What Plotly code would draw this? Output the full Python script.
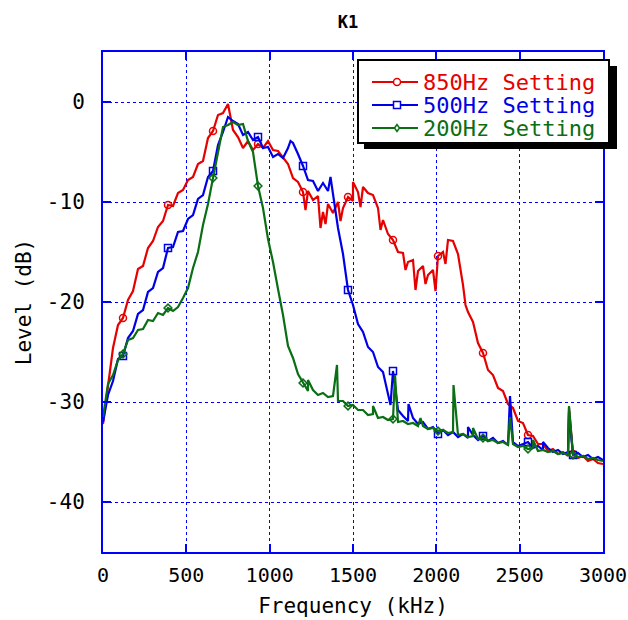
import numpy as np
import plotly.graph_objects as go

# ---- data ----
freq_khz = list(range(0, 3001, 30))

level_850 = [-32.2, -28.4, -24.6, -22.3, -21.6, -19.8, -18.9, -16.7, -16.4, -14.6,
             -13.9, -12.5, -11.9, -10.3, -10.4, -9.1, -8.8, -7.8, -7.5, -6.2,
             -5.9, -3.6, -2.9, -1.3, -1.1, -0.2, -2.8, -3.5, -4.6, -3.9,
             -4.8, -4.2, -4.6, -3.9, -4.8, -4.9, -5.6, -6.2, -7.6, -8.0,
             -9.0, -8.9, -9.8, -9.4, -11.0, -10.2, -11.1, -10.0, -10.6, -9.5,
             -9.9, -9.0, -8.5, -9.1, -9.3, -10.6, -11.8, -13.2, -13.8, -15.0,
             -15.1, -16.0, -15.8, -16.9, -16.4, -17.3, -16.8, -15.4, -15.0, -13.8,
             -13.9, -15.2, -18.3, -21.0, -22.0, -24.1, -25.1, -26.8, -27.3, -28.6,
             -28.9, -30.2, -30.6, -31.9, -32.1, -33.3, -33.4, -34.2, -34.2, -34.9,
             -34.7, -35.2, -35.0, -35.4, -35.2, -35.6, -35.4, -35.9, -35.7, -36.1,
             -36.2]

level_500 = [-32.0, -29.3, -27.9, -25.7, -25.4, -23.6, -22.9, -21.2, -20.8, -19.0,
             -18.6, -17.0, -16.6, -14.6, -14.5, -13.0, -12.9, -11.7, -11.3, -9.7,
             -9.3, -7.5, -6.9, -4.3, -3.0, -1.5, -1.9, -2.2, -3.3, -3.0,
             -3.8, -3.5, -4.6, -4.5, -5.5, -5.2, -5.6, -4.6, -4.1, -5.2,
             -6.4, -7.8, -7.9, -8.9, -8.1, -8.9, -9.2, -12.6, -15.2, -18.8,
             -20.3, -22.2, -23.0, -24.5, -25.0, -26.5, -27.0, -29.0, -26.9, -30.8,
             -31.4, -31.9, -31.6, -32.2, -32.0, -32.7, -32.5, -33.2, -32.8, -33.3,
             -33.0, -33.5, -33.2, -33.6, -33.3, -33.8, -33.4, -33.9, -33.6, -34.1,
             -33.9, -34.3, -34.0, -34.4, -34.2, -34.0, -34.6, -34.4, -34.8, -34.6,
             -35.0, -34.8, -35.2, -35.0, -35.3, -35.1, -35.5, -35.3, -35.7, -35.5,
             -35.8]

level_200 = [-31.5, -28.2, -27.3, -25.8, -25.2, -23.8, -23.6, -22.8, -22.7, -21.8,
             -21.9, -21.1, -21.3, -20.6, -20.9, -20.5, -19.6, -18.6, -16.6, -15.0,
             -12.3, -10.2, -7.6, -5.2, -2.5, -2.3, -2.0, -2.3, -2.2, -3.9,
             -5.0, -8.4, -10.6, -13.7, -16.0, -18.7, -21.3, -24.4, -25.6, -27.2,
             -28.1, -28.9, -28.8, -29.3, -29.1, -29.5, -29.4, -29.9, -29.9, -30.4,
             -30.3, -30.8, -30.8, -31.3, -31.2, -31.6, -31.5, -31.8, -31.7, -32.0,
             -31.9, -32.2, -32.1, -32.4, -32.4, -32.7, -32.6, -32.9, -32.8, -33.1,
             -33.0, -33.3, -33.2, -33.5, -33.4, -33.7, -33.6, -33.9, -33.8, -34.1,
             -34.0, -34.3, -34.2, -34.5, -34.4, -34.7, -34.6, -34.9, -34.8, -35.0,
             -34.9, -35.2, -35.1, -35.3, -35.3, -35.5, -35.4, -35.7, -35.6, -35.8,
             -35.9]

# narrow spikes / dips seen between the sampled points
spike_850_freq = [1215, 1305, 1335, 1425, 1500, 1545, 1665, 1815, 1875, 1935,
                  1995, 2055, 2175, 2796]
spike_850_level = [-10.8, -12.6, -12.2, -11.9, -8.0, -10.5, -12.8, -16.8, -18.8, -18.2,
                   -18.9, -16.2, -20.3, -30.6]
spike_500_freq = [1125, 1365, 1725, 1833, 2190, 2442, 2640, 2796]
spike_500_level = [-3.9, -7.5, -30.3, -30.2, -32.5, -29.4, -34.0, -31.0]
spike_200_freq = [1230, 1404, 1620, 1752, 1905, 2103, 2220, 2442, 2580, 2796]
spike_200_level = [-27.8, -26.3, -30.4, -27.3, -31.6, -28.3, -32.6, -31.5, -33.8, -30.4]

series_names = ["850Hz Setting", "500Hz Setting", "200Hz Setting"]
x_tick_vals = [0, 500, 1000, 1500, 2000, 2500, 3000]
x_tick_text = ["0", "500", "1000", "1500", "2000", "2500", "3000"]
y_tick_vals = [0, -10, -20, -30, -40]
y_tick_text = ["0", "-10", "-20", "-30", "-40"]

# ---- styling ----
colors = ["#e60000", "#0000e6", "#0a6e14"]
symbols = ["circle-open", "square-open", "diamond-open"]
msizes = [7, 7, 6]
FONT = "DejaVu Sans Mono"
FRAME = "#0000ff"

# plot area in pixels
L, R, T, B = 103, 603, 52, 552
W, H = 628, 620


def px(x):
    return (x - L) / (R - L)


def py(y):
    return (B - y) / (B - T)


fig = go.Figure()

series = [
    (level_850, spike_850_freq, spike_850_level),
    (level_500, spike_500_freq, spike_500_level),
    (level_200, spike_200_freq, spike_200_level),
]

base_f = np.array(freq_khz, dtype=float)
for (lv, sf, sl), name, c, sym, ms in zip(series, series_names, colors, symbols, msizes):
    f_all = np.concatenate([base_f, np.array(sf, dtype=float)])
    l_all = np.concatenate([np.array(lv, dtype=float), np.array(sl, dtype=float)])
    order = np.argsort(f_all, kind="stable")
    fig.add_trace(go.Scatter(x=f_all[order], y=l_all[order], mode="lines", name=name,
                             line=dict(color=c, width=2.2), showlegend=False,
                             hoverinfo="skip"))
    # sparse markers every 9th sample, starting at the 5th
    fig.add_trace(go.Scatter(x=base_f[4::9], y=np.array(lv)[4::9], mode="markers",
                             marker=dict(symbol=sym, size=ms, color=c,
                                         line=dict(color=c, width=1.5)),
                             showlegend=False, hoverinfo="skip"))

axis_common = dict(
    showline=True, linecolor=FRAME, linewidth=2, mirror="ticks",
    ticks="inside", ticklen=8, tickwidth=2, tickcolor=FRAME,
    showgrid=True, gridcolor=FRAME, gridwidth=1, griddash="dot",
    zeroline=False, automargin=False, ticklabeloverflow="allow",
)

# ---- hand-drawn legend box with drop shadow ----
shapes = [
    dict(type="rect", xref="paper", yref="paper",
         x0=px(364), x1=px(617), y0=py(149), y1=py(66),
         fillcolor="black", line=dict(width=0), layer="above"),
    dict(type="rect", xref="paper", yref="paper",
         x0=px(358), x1=px(609), y0=py(143), y1=py(60),
         fillcolor="white", line=dict(color="black", width=2), layer="above"),
]
annotations = []
rows = [82, 105, 128]
for row, name, c, sym in zip(rows, series_names, colors, symbols):
    shapes.append(dict(type="line", xref="paper", yref="paper",
                       x0=px(372), x1=px(418), y0=py(row), y1=py(row),
                       line=dict(color=c, width=2), layer="above"))
    cx = 397
    if sym.startswith("circle"):
        shapes.append(dict(type="circle", xref="paper", yref="paper",
                           x0=px(cx - 3.5), x1=px(cx + 3.5),
                           y0=py(row + 3.5), y1=py(row - 3.5),
                           fillcolor="white", line=dict(color=c, width=1.5),
                           layer="above"))
    elif sym.startswith("square"):
        shapes.append(dict(type="rect", xref="paper", yref="paper",
                           x0=px(cx - 3.5), x1=px(cx + 3.5),
                           y0=py(row + 3.5), y1=py(row - 3.5),
                           fillcolor="white", line=dict(color=c, width=1.5),
                           layer="above"))
    else:
        path = (f"M{px(cx - 2.5)},{py(row)} L{px(cx)},{py(row - 3.5)} "
                f"L{px(cx + 2.5)},{py(row)} L{px(cx)},{py(row + 3.5)} Z")
        shapes.append(dict(type="path", xref="paper", yref="paper", path=path,
                           fillcolor="white", line=dict(color=c, width=1.5),
                           layer="above"))
    annotations.append(dict(xref="paper", yref="paper", x=px(421), y=py(row),
                            xanchor="left", yanchor="middle", showarrow=False,
                            text=name, font=dict(family=FONT, size=22, color=c)))

fig.update_layout(
    width=W, height=H,
    margin=dict(l=L, r=W - R, t=T, b=H - B),
    paper_bgcolor="white", plot_bgcolor="white",
    showlegend=False,
    title=dict(text="<b>K1</b>", x=348 / W, xanchor="center",
               y=1 - 22 / H, yanchor="middle", automargin=False,
               font=dict(family=FONT, size=17, color="black")),
    xaxis=dict(range=[0, 3000], tickvals=x_tick_vals, ticktext=x_tick_text,
               ticklabelstandoff=4,
               tickfont=dict(family=FONT, size=20, color="black"),
               title=dict(text="Frequency (kHz)", standoff=12,
                          font=dict(family=FONT, size=21, color="black")),
               **axis_common),
    yaxis=dict(range=[-45, 5], tickvals=y_tick_vals, ticktext=y_tick_text,
               ticklabelstandoff=12,
               tickfont=dict(family=FONT, size=21, color="black"),
               title=dict(text="Level (dB)", standoff=10,
                          font=dict(family=FONT, size=21, color="black")),
               **axis_common),
    shapes=shapes,
    annotations=annotations,
)

fig.write_html("out.html",
               config={"displayModeBar": False, "staticPlot": True},
               post_script="document.body.style.margin='0';"
                           "document.body.style.overflow='hidden';")
